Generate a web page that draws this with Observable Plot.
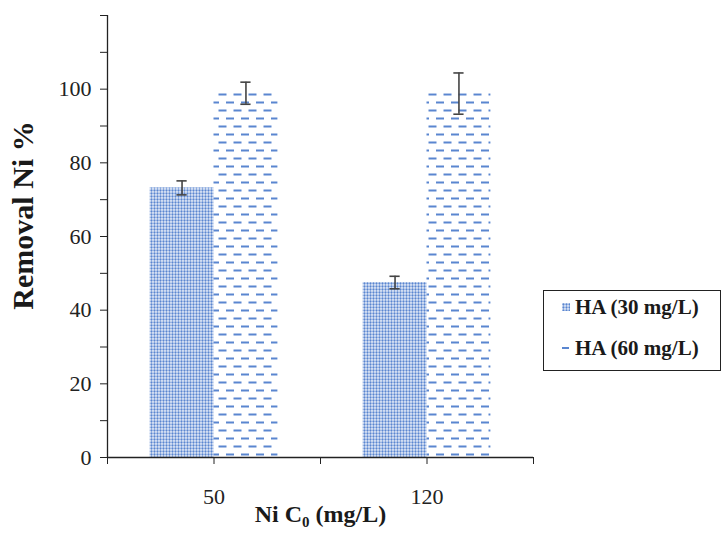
<!DOCTYPE html>
<html><head><meta charset="utf-8">
<script src="https://cdn.jsdelivr.net/npm/d3@7"></script>
<script src="https://cdn.jsdelivr.net/npm/@observablehq/plot@0.6"></script>
<style>
body{margin:0;background:#fff;}
#wrap{position:relative;width:726px;height:539px;overflow:hidden;}
#legend{position:absolute;left:543px;top:290px;width:176px;height:79px;border:1.5px solid #222;background:#fff;
  font-family:"Liberation Serif","Times New Roman",serif;font-weight:bold;font-size:21px;color:#1a1a1a;}
.item{position:absolute;left:0;height:24px;line-height:24px;white-space:nowrap;}
.item svg{position:absolute;left:18px;top:8px;}
.item span{position:absolute;left:31px;top:0;}
</style></head><body><div id="wrap"></div>
<script>
const categories = ["50", "120"];
const seriesNames = ["HA (30 mg/L)", "HA (60 mg/L)"];
const values30 = [73.2, 47.5];
const errors30 = [1.9, 1.7];
const values60 = [98.9, 98.8];
const errors60 = [3.0, 5.6];
const yTicks = [0, 10, 20, 30, 40, 50, 60, 70, 80, 90, 100, 110, 120];
const yTickLabels = [0, 20, 40, 60, 80, 100];
const yTitle = "Removal Ni %";
const xTitle = "Ni C0 (mg/L)";

const rows = [];
categories.forEach((c, i) => {
  [[values30, errors30], [values60, errors60]].forEach(([vals, errs], s) => {
    const x1 = i + 0.2 + s * 0.3;
    rows.push({cat: c, series: seriesNames[s], value: vals[i], err: errs[i], x1, x2: x1 + 0.3, xc: x1 + 0.15, s});
  });
});
const caps = rows.flatMap(d => [
  {y: d.value + d.err, x1: d.xc - 0.024, x2: d.xc + 0.024},
  {y: d.value - d.err, x1: d.xc - 0.024, x2: d.xc + 0.024}
]);

function defs() {
  const g = d3.create("svg:defs");
  const p1 = g.append("pattern").attr("id", "dots").attr("patternUnits", "userSpaceOnUse")
    .attr("width", 3).attr("height", 3);
  p1.append("rect").attr("width", 3).attr("height", 3).attr("fill", "#e4ebf8");
  p1.append("circle").attr("cx", 1.5).attr("cy", 1.5).attr("r", 1.15).attr("fill", "#5a86d0");
  const p2 = g.append("pattern").attr("id", "dashes").attr("patternUnits", "userSpaceOnUse")
    .attr("width", 15).attr("height", 16);
  p2.append("rect").attr("x", 1).attr("y", 5.5).attr("width", 8).attr("height", 2).attr("fill", "#5a86d0");
  p2.append("rect").attr("x", 8.5).attr("y", 13.5).attr("width", 8).attr("height", 2).attr("fill", "#5a86d0");
  p2.append("rect").attr("x", -6.5).attr("y", 13.5).attr("width", 8).attr("height", 2).attr("fill", "#5a86d0");
  return g.node();
}

const font = "Liberation Serif, Times New Roman, serif";
const chart = Plot.plot({
  width: 726, height: 539,
  marginLeft: 107, marginRight: 193, marginTop: 15, marginBottom: 82,
  style: {fontFamily: font, fontSize: "22px", color: "#222", background: "white", overflow: "visible"},
  x: {domain: [0, 2], axis: null},
  y: {domain: [0, 120], axis: null},
  marks: [
    defs,
    Plot.rectY(rows.filter(d => d.s === 0), {x1: "x1", x2: "x2", y: "value", fill: "url(#dots)"}),
    Plot.rectY(rows.filter(d => d.s === 1), {x1: "x1", x2: "x2", y: "value", fill: "url(#dashes)"}),
    Plot.ruleX(rows, {x: "xc", y1: d => d.value - d.err, y2: d => d.value + d.err, stroke: "#444", strokeWidth: 1.6}),
    Plot.ruleY(caps, {y: "y", x1: "x1", x2: "x2", stroke: "#444", strokeWidth: 1.6}),
    Plot.ruleX([0], {stroke: "#222", strokeWidth: 1.3}),
    Plot.ruleY([0], {stroke: "#222", strokeWidth: 1.3}),
    Plot.axisY({ticks: yTicks, tickSize: 7, tickPadding: 9, label: null, stroke: "#222",
      tickFormat: d => yTickLabels.includes(d) ? String(d) : "", fontSize: 22}),
    Plot.axisX({ticks: [0, 0.5, 1, 1.5, 2], tickSize: 7, tickPadding: 24, label: null, stroke: "#222",
      tickFormat: d => Number.isInteger(d - 0.5) ? categories[d - 0.5] : "", fontSize: 22}),
    Plot.text([yTitle], {frameAnchor: "left", textAnchor: "middle", rotate: -90, dx: -84, dy: -21, fontSize: 30, fontWeight: "bold", fill: "#1a1a1a"}),
    Plot.text([xTitle], {frameAnchor: "bottom", dy: 64, fontSize: 24, fontWeight: "bold", fill: "#1a1a1a", className: "xtitle"})
  ]
});
document.getElementById("wrap").appendChild(chart);

// subscript for C0
d3.select(chart).selectAll(".xtitle text").each(function () {
  const t = d3.select(this);
  t.text("");
  t.append("tspan").text("Ni C");
  t.append("tspan").attr("font-size", 15).attr("dy", 5).text("0");
  t.append("tspan").attr("dy", -5).text(" (mg/L)");
});

const legend = d3.select("#wrap").append("div").attr("id", "legend");
seriesNames.forEach((name, i) => {
  const item = legend.append("div").attr("class", "item").style("top", (i === 0 ? 4 : 45) + "px");
  const sw = item.append("svg").attr("width", 9).attr("height", 9);
  if (i === 0) {
    sw.append("rect").attr("width", 8).attr("height", 8).attr("fill", "url(#dots)");
  } else {
    sw.append("rect").attr("y", 3).attr("width", 7).attr("height", 2).attr("fill", "#5a86d0");
  }
  item.append("span").text(name);
});
</script></body></html>
